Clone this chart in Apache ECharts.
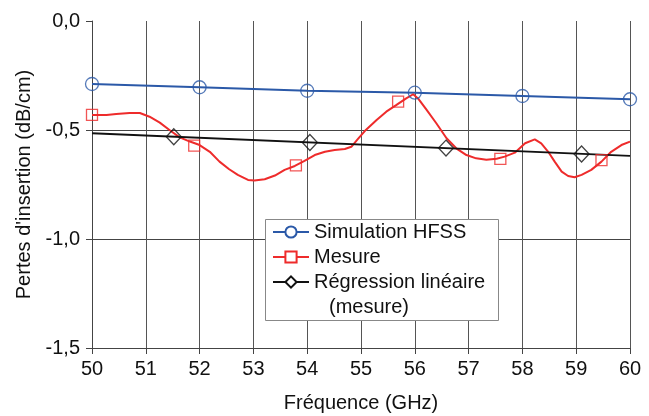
<!DOCTYPE html>
<html>
<head>
<meta charset="utf-8">
<script src="https://cdn.jsdelivr.net/npm/echarts@6/dist/echarts.min.js"></script>
<style>html,body{margin:0;padding:0;background:#fff;}#c{width:649px;height:416px;}</style>
</head>
<body>
<div id="c"></div>
<script>
// ---- data ----
var simX = [50, 52, 54, 56, 58, 60];
var simY = [-0.289, -0.304, -0.320, -0.329, -0.344, -0.359];

var mesX = [50.00,50.27,50.45,50.70,50.89,51.07,51.26,51.44,51.63,51.82,52.00,52.19,52.37,52.55,52.71,52.90,53.02,53.21,53.40,53.58,53.77,53.95,54.14,54.33,54.51,54.70,54.82,54.94,55.07,55.29,55.47,55.66,55.84,55.97,56.06,56.22,56.40,56.59,56.77,56.96,57.14,57.33,57.52,57.67,57.86,58.05,58.23,58.35,58.48,58.60,58.73,58.85,58.97,59.10,59.28,59.47,59.65,59.84,60.00];
var mesY = [-0.431,-0.431,-0.427,-0.422,-0.422,-0.439,-0.466,-0.500,-0.534,-0.553,-0.569,-0.600,-0.645,-0.680,-0.706,-0.729,-0.732,-0.726,-0.709,-0.683,-0.665,-0.642,-0.615,-0.600,-0.592,-0.587,-0.577,-0.542,-0.505,-0.454,-0.416,-0.385,-0.355,-0.336,-0.355,-0.408,-0.469,-0.538,-0.584,-0.615,-0.630,-0.636,-0.632,-0.622,-0.604,-0.561,-0.543,-0.561,-0.600,-0.645,-0.691,-0.711,-0.717,-0.706,-0.683,-0.645,-0.600,-0.569,-0.553];
var mesMarkX = [50.00, 51.90, 53.79, 55.69, 57.59, 59.47];
var mesMarkY = [-0.431, -0.572, -0.662, -0.370, -0.632, -0.638];

var regX = [50, 60];
var regY = [-0.515, -0.619];
var regMarkX = [51.52, 54.05, 56.58, 59.10];
var regMarkY = [-0.531, -0.557, -0.583, -0.610];

var yTicks = [-1.5, -1.0, -0.5, 0.0];
var xTicks = [50, 51, 52, 53, 54, 55, 56, 57, 58, 59, 60];

var names = ['Simulation HFSS', 'Mesure', 'Régression linéaire'];
var nameExtra = '(mesure)';

function zip(a, b) { return a.map(function (v, i) { return [v, b[i]]; }); }

var BLUE = '#2b59a8', RED = '#ee2b2b', BLACK = '#111111';
var FONT = 'Liberation Sans, Arial, sans-serif';

var chart = echarts.init(document.getElementById('c'), null, { renderer: 'canvas' });
chart.setOption({
  animation: false,
  backgroundColor: '#ffffff',
  grid: { left: 92, right: 19, top: 21, bottom: 68, containLabel: false, outerBoundsMode: 'none' },
  xAxis: {
    type: 'value', min: xTicks[0], max: xTicks[xTicks.length - 1], interval: 1,
    name: 'Fréquence (GHz)', nameLocation: 'middle', nameGap: 45,
    nameTextStyle: { fontFamily: FONT, fontSize: 20, color: '#111' },
    axisLine: { show: true, onZero: false, lineStyle: { color: '#444', width: 1 } },
    axisTick: { show: true, inside: false, length: 6, lineStyle: { color: '#444' } },
    axisLabel: { fontFamily: FONT, fontSize: 20, color: '#111', margin: 11 },
    splitLine: { show: true, lineStyle: { color: '#555', width: 1 } }
  },
  yAxis: {
    type: 'value', min: yTicks[0], max: yTicks[yTicks.length - 1], interval: 0.5,
    name: "Pertes d'insertion (dB/cm)", nameLocation: 'middle', nameGap: 58,
    nameTextStyle: { fontFamily: FONT, fontSize: 20, color: '#111' },
    axisLine: { show: true, lineStyle: { color: '#444', width: 1 } },
    axisTick: { show: true, inside: false, length: 6, lineStyle: { color: '#444' } },
    axisLabel: { fontFamily: FONT, fontSize: 20, color: '#111', margin: 12,
      formatter: function (v) { return v.toFixed(1).replace('.', ','); } },
    splitLine: { show: true, lineStyle: { color: ['#444', '#444', '#444', 'rgba(0,0,0,0)'], width: 1 } }
  },
  legend: {
    orient: 'vertical', left: 272, top: 221, padding: 0, itemGap: 3,
    itemWidth: 36, itemHeight: 14, z: 6,
    textStyle: { fontFamily: FONT, fontSize: 20, color: '#111', lineHeight: 22 },
    data: names
  },
  graphic: [
    { type: 'rect', z: 5, shape: { x: 265.5, y: 219.5, width: 233, height: 101 },
      style: { fill: '#fff', stroke: '#888', lineWidth: 1 } },
    { type: 'text', z: 7, x: 329, y: 307,
      style: { text: nameExtra, font: '20px ' + FONT, fill: '#111', verticalAlign: 'middle' } }
  ],
  series: [
    { name: names[0], type: 'line', data: zip(simX, simY), showSymbol: false,
      symbol: 'circle', lineStyle: { color: BLUE, width: 2 },
      itemStyle: { color: '#fff', borderColor: BLUE, borderWidth: 1.3 }, z: 2 },
    { name: names[0] + ' pts', type: 'scatter', data: zip(simX, simY), symbol: 'circle', symbolSize: 13,
      itemStyle: { color: 'rgba(0,0,0,0)', borderColor: BLUE, borderWidth: 1.3 }, z: 3 },
    { name: names[1], type: 'line', data: zip(mesX, mesY), showSymbol: false,
      symbol: 'rect', lineStyle: { color: RED, width: 2 },
      itemStyle: { color: '#fff', borderColor: RED, borderWidth: 1.3 }, z: 2 },
    { name: names[1] + ' pts', type: 'scatter', data: zip(mesMarkX, mesMarkY), symbol: 'rect', symbolSize: 11,
      itemStyle: { color: 'rgba(0,0,0,0)', borderColor: RED, borderWidth: 1.3 }, z: 3 },
    { name: names[2], type: 'line', data: zip(regX, regY), showSymbol: false,
      symbol: 'diamond', lineStyle: { color: BLACK, width: 1.8 },
      itemStyle: { color: '#fff', borderColor: BLACK, borderWidth: 1.3 }, z: 2 },
    { name: names[2] + ' pts', type: 'scatter', data: zip(regMarkX, regMarkY), symbol: 'diamond', symbolSize: [15, 16],
      itemStyle: { color: 'rgba(0,0,0,0)', borderColor: BLACK, borderWidth: 1.3 }, z: 3 }
  ]
});
</script>
</body>
</html>
